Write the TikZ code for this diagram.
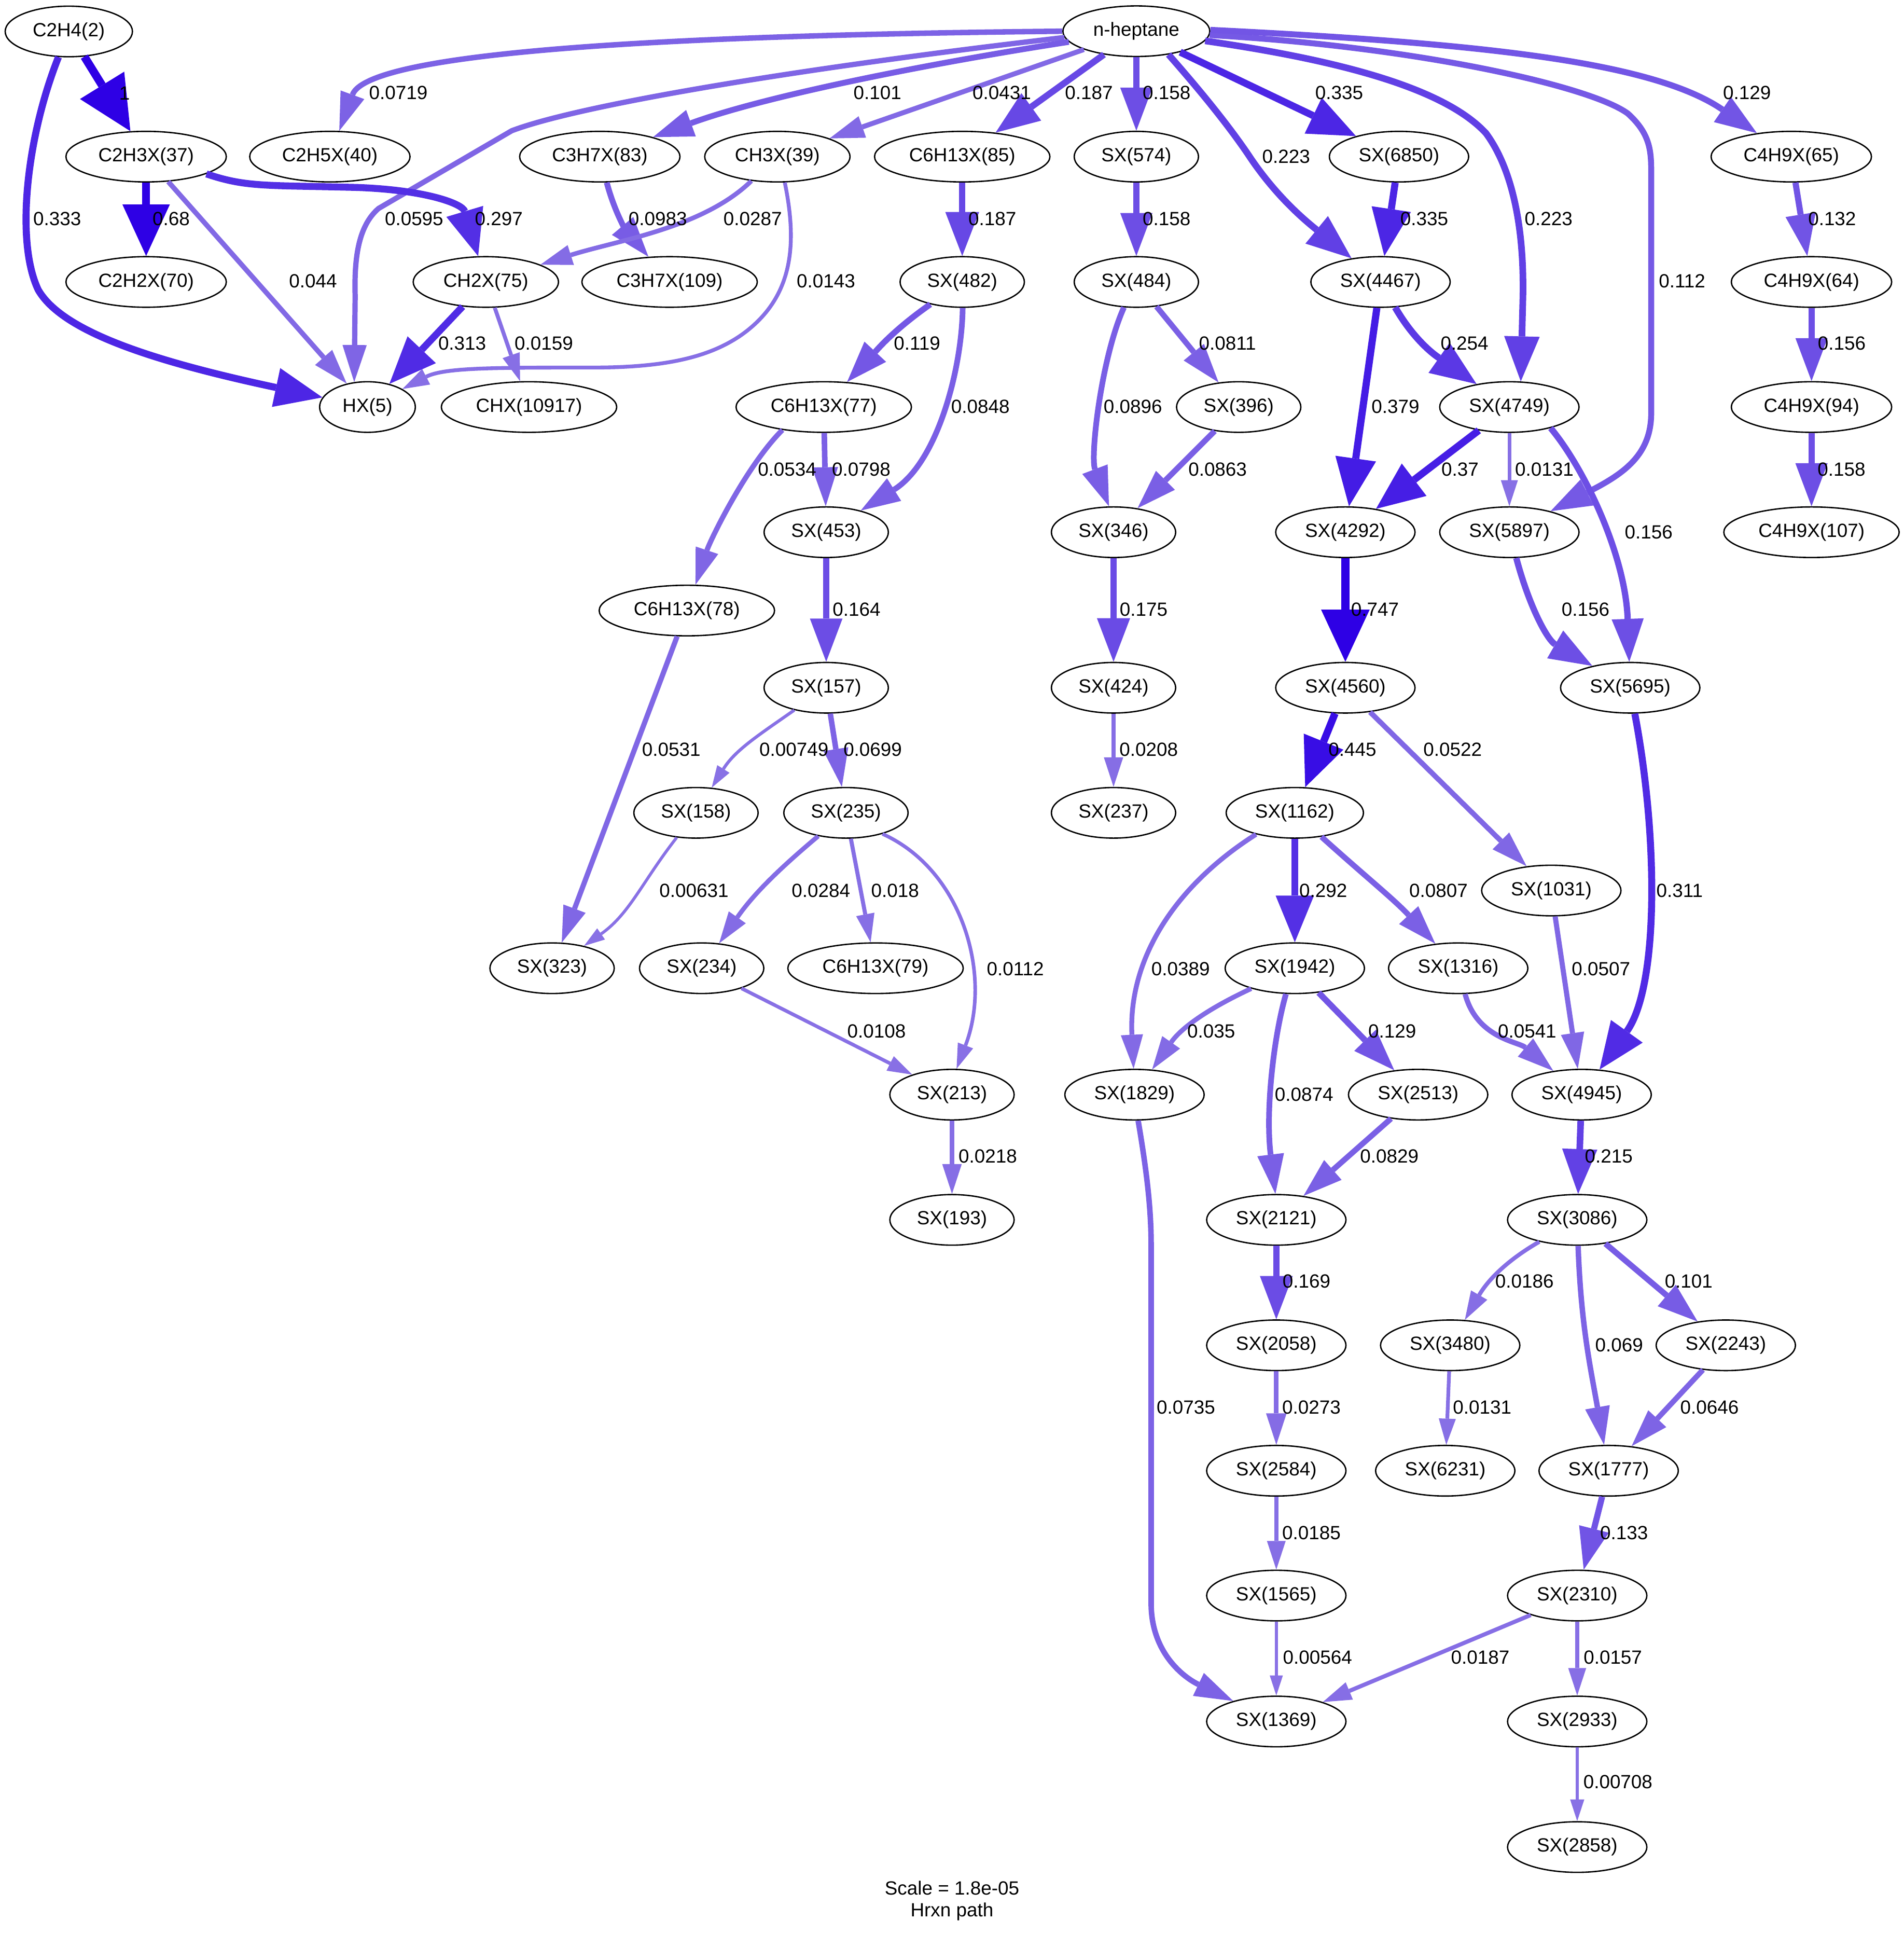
\documentclass[tikz,border=0pt]{standalone}
\usepackage{fontspec}
\setmainfont{Liberation Sans}
\usetikzlibrary{shapes.geometric,arrows.meta}

\tikzset{
  sp/.style={draw, ellipse, line width=1.1pt, inner xsep=7.2pt, inner ysep=1pt,
             minimum height=41pt, font=\fontsize{15.5}{18}\selectfont},
  lab/.style={inner sep=0pt, font=\fontsize{15.5}{18}\selectfont},
  % pen width, arrow size and colour (hue 0.7, value 0.9) follow the relative flux
  flux/.code={%
    \pgfmathsetmacro\fluxgv{2+4*log10(#1/0.005)/2.30103}%
    \pgfmathsetmacro\fluxpen{1.107*\fluxgv}%
    \pgfmathsetmacro\fluxsat{min(1,#1+0.5)}%
    \pgfmathsetmacro\fluxr{0.9*(1-0.8*\fluxsat)}%
    \pgfmathsetmacro\fluxg{0.9*(1-\fluxsat)}%
    \pgfmathsetmacro\fluxlen{11.07*min(6,0.5*\fluxgv)}%
    \pgfmathsetmacro\fluxk{0.35*max(1,\fluxgv/4)}%
    \pgfmathsetmacro\fluxL{\fluxlen+\fluxpen*(0.5+0.5/sin(atan(\fluxk)))}%
    \pgfmathsetmacro\fluxW{2*\fluxk*\fluxlen+1.1*\fluxpen}%
    \definecolor{fluxcolor}{rgb}{\fluxr,\fluxg,0.9}%
    \edef\fluxkeys{line width=\fluxpen pt, draw=fluxcolor,
      -{Triangle[length=\fluxL pt,width=\fluxW pt,line width=0pt]}}%
    \expandafter\pgfkeysalso\expandafter{\fluxkeys}%
  },
}

\begin{document}
\begin{tikzpicture}[x=1pt,y=1pt]
\fill[white] (0,0) rectangle (1544,-1568);
\useasboundingbox (0,0) rectangle (1544,-1568);

% species
\node[sp] (C2H4) at (55.8,-25.5) {C2H4(2)};
\node[sp] (nhep) at (921.5,-25.3) {n-heptane};
\node[sp] (C2H3X37) at (118.5,-127) {C2H3X(37)};
\node[sp] (C2H5X40) at (267.5,-127) {C2H5X(40)};
\node[sp] (C3H7X83) at (486.4,-127) {C3H7X(83)};
\node[sp] (CH3X39) at (630.4,-127) {CH3X(39)};
\node[sp] (C6H13X85) at (780.3,-127) {C6H13X(85)};
\node[sp] (SX574) at (921.5,-127) {SX(574)};
\node[sp] (SX6850) at (1134.5,-127) {SX(6850)};
\node[sp] (C4H9X65) at (1452.6,-127) {C4H9X(65)};
\node[sp] (C2H2X70) at (118.5,-228.6) {C2H2X(70)};
\node[sp] (CH2X75) at (394,-228.6) {CH2X(75)};
\node[sp] (C3H7X109) at (543,-228.6) {C3H7X(109)};
\node[sp] (SX482) at (780.3,-228.6) {SX(482)};
\node[sp] (SX484) at (921.5,-228.6) {SX(484)};
\node[sp] (SX4467) at (1119.5,-228.6) {SX(4467)};
\node[sp] (C4H9X64) at (1469,-228.6) {C4H9X(64)};
\node[sp] (HX5) at (298,-330) {HX(5)};
\node[sp] (CHX) at (429,-330) {CHX(10917)};
\node[sp] (C6H13X77) at (668,-330) {C6H13X(77)};
\node[sp] (SX396) at (1004.5,-330) {SX(396)};
\node[sp] (SX4749) at (1224,-330) {SX(4749)};
\node[sp] (C4H9X94) at (1469,-330) {C4H9X(94)};
\node[sp] (SX453) at (670,-431.5) {SX(453)};
\node[sp] (SX346) at (903,-431.5) {SX(346)};
\node[sp] (SX4292) at (1091,-431.5) {SX(4292)};
\node[sp] (SX5897) at (1224,-431.5) {SX(5897)};
\node[sp] (C4H9X107) at (1469,-431.5) {C4H9X(107)};
\node[sp] (C6H13X78) at (557,-495) {C6H13X(78)};
\node[sp] (SX157) at (670,-557.6) {SX(157)};
\node[sp] (SX424) at (903,-557.6) {SX(424)};
\node[sp] (SX4560) at (1091,-557.6) {SX(4560)};
\node[sp] (SX5695) at (1322,-557.6) {SX(5695)};
\node[sp] (SX158) at (564.4,-659) {SX(158)};
\node[sp] (SX235) at (686,-659) {SX(235)};
\node[sp] (SX237) at (903,-659) {SX(237)};
\node[sp] (SX1162) at (1050,-659) {SX(1162)};
\node[sp] (SX1031) at (1258,-722) {SX(1031)};
\node[sp] (SX323) at (447.7,-785) {SX(323)};
\node[sp] (SX234) at (569,-785) {SX(234)};
\node[sp] (C6H13X79) at (710,-785) {C6H13X(79)};
\node[sp] (SX1942) at (1050,-785) {SX(1942)};
\node[sp] (SX1316) at (1182.5,-785) {SX(1316)};
\node[sp] (SX213) at (772,-887.5) {SX(213)};
\node[sp] (SX1829) at (920,-887.5) {SX(1829)};
\node[sp] (SX2513) at (1150,-887.5) {SX(2513)};
\node[sp] (SX4945) at (1282.6,-887.5) {SX(4945)};
\node[sp] (SX193) at (772,-989) {SX(193)};
\node[sp] (SX2121) at (1035,-989) {SX(2121)};
\node[sp] (SX3086) at (1279,-989) {SX(3086)};
\node[sp] (SX2058) at (1035,-1090.7) {SX(2058)};
\node[sp] (SX3480) at (1176,-1090.7) {SX(3480)};
\node[sp] (SX2243) at (1399.5,-1090.7) {SX(2243)};
\node[sp] (SX2584) at (1035,-1192.4) {SX(2584)};
\node[sp] (SX6231) at (1172,-1192.4) {SX(6231)};
\node[sp] (SX1777) at (1304.5,-1192.4) {SX(1777)};
\node[sp] (SX1565) at (1035,-1293.6) {SX(1565)};
\node[sp] (SX2310) at (1279,-1293.6) {SX(2310)};
\node[sp] (SX1369) at (1035,-1395.7) {SX(1369)};
\node[sp] (SX2933) at (1279,-1395.7) {SX(2933)};
\node[sp] (SX2858) at (1279,-1497.5) {SX(2858)};

% fluxes
\draw[flux=1] (C2H4) -- (C2H3X37);
\draw[flux=0.333] (C2H4.248) .. controls (22,-110) and (12,-195) .. (31,-235) .. controls (50,-268) and (120,-292) .. (HX5);
\draw[flux=0.0719] (nhep.180) .. controls (600,-28) and (300,-38) .. (C2H5X40);
\draw[flux=0.0595] (nhep.185) .. controls (650,-55) and (470,-85) .. (415,-106) -- (307,-169) .. controls (292,-182) and (287,-205) .. (288,-240) -- (HX5.118);
\draw[flux=0.101] (nhep.189) .. controls (750,-52) and (620,-78) .. (C3H7X83);
\draw[flux=0.0431] (nhep) -- (CH3X39);
\draw[flux=0.187] (nhep) -- (C6H13X85);
\draw[flux=0.158] (nhep) -- (SX574);
\draw[flux=0.223] (nhep.-36) .. controls (972,-72) and (995,-100) .. (1012,-125) .. controls (1035,-160) and (1060,-180) .. (SX4467);
\draw[flux=0.335] (nhep) -- (SX6850);
\draw[flux=0.223] (nhep.-8) .. controls (1080,-48) and (1170,-70) .. (1205,-108) .. controls (1225,-135) and (1236,-180) .. (1235,-240) -- (SX4749.66);
\draw[flux=0.112] (nhep.-3) .. controls (1150,-38) and (1290,-70) .. (1320,-92) .. controls (1340,-110) and (1339,-125) .. (1339,-145) -- (1339,-335) .. controls (1339,-370) and (1315,-385) .. (SX5897);
\draw[flux=0.129] (nhep.1) .. controls (1200,-35) and (1340,-50) .. (C4H9X65);
\draw[flux=0.68] (C2H3X37) -- (C2H2X70);
\draw[flux=0.044] (C2H3X37) -- (HX5);
\draw[flux=0.297] (C2H3X37.-16) .. controls (200,-152) and (215,-150) .. (290,-152) .. controls (345,-154) and (375,-165) .. (CH2X75);
\draw[flux=0.0983] (C3H7X83) to[out=-75,in=130] (C3H7X109);
\draw[flux=0.0287] (CH3X39.-137) .. controls (570,-185) and (500,-195) .. (CH2X75);
\draw[flux=0.0143] (CH3X39.-74) .. controls (645,-190) and (645,-230) .. (615,-260) .. controls (585,-290) and (540,-298) .. (480,-298) .. controls (400,-298) and (360,-298) .. (HX5);
\draw[flux=0.313] (CH2X75) -- (HX5);
\draw[flux=0.0159] (CH2X75) -- (CHX);
\draw[flux=0.187] (C6H13X85) -- (SX482);
\draw[flux=0.158] (SX574) -- (SX484);
\draw[flux=0.335] (SX6850) -- (SX4467);
\draw[flux=0.132] (C4H9X65) -- (C4H9X64);
\draw[flux=0.156] (C4H9X64) -- (C4H9X94);
\draw[flux=0.158] (C4H9X94) -- (C4H9X107);
\draw[flux=0.119] (SX482) to[out=-145,in=47] (C6H13X77);
\draw[flux=0.0848] (SX482.-89) .. controls (780,-300) and (760,-375) .. (SX453);
\draw[flux=0.0811] (SX484) -- (SX396);
\draw[flux=0.0896] (SX484.-116) .. controls (893,-290) and (884,-370) .. (SX346.100);
\draw[flux=0.379] (SX4467) -- (SX4292);
\draw[flux=0.254] (SX4467) to[out=-60,in=145] (SX4749);
\draw[flux=0.0534] (C6H13X77.-151) .. controls (605,-378) and (576,-438) .. (C6H13X78);
\draw[flux=0.0798] (C6H13X77) -- (SX453);
\draw[flux=0.0863] (SX396) -- (SX346);
\draw[flux=0.37] (SX4749) -- (SX4292);
\draw[flux=0.0131] (SX4749) -- (SX5897);
\draw[flux=0.156] (SX4749.-27) .. controls (1285,-380) and (1318,-450) .. (SX5695);
\draw[flux=0.164] (SX453) -- (SX157);
\draw[flux=0.175] (SX346) -- (SX424);
\draw[flux=0.747] (SX4292) -- (SX4560);
\draw[flux=0.156] (SX5897) to[out=-75,in=150] (SX5695);
\draw[flux=0.0531] (C6H13X78) -- (SX323);
\draw[flux=0.00749] (SX157) to[out=-145,in=58] (SX158);
\draw[flux=0.0699] (SX157) -- (SX235);
\draw[flux=0.0208] (SX424) -- (SX237);
\draw[flux=0.445] (SX4560) -- (SX1162);
\draw[flux=0.0522] (SX4560) -- (SX1031);
\draw[flux=0.00631] (SX158) to[out=-128,in=35] (SX323);
\draw[flux=0.0284] (SX235) to[out=-140,in=55] (SX234);
\draw[flux=0.018] (SX235) -- (C6H13X79);
\draw[flux=0.0112] (SX235.-30) .. controls (780,-705) and (805,-790) .. (SX213.80);
\draw[flux=0.0389] (SX1162.-151) .. controls (950,-720) and (915,-780) .. (SX1829.92);
\draw[flux=0.292] (SX1162) -- (SX1942);
\draw[flux=0.0807] (SX1162) to[out=-42,in=133] (SX1316);
\draw[flux=0.0507] (SX1031) -- (SX4945);
\draw[flux=0.311] (SX5695.-80) .. controls (1345,-680) and (1345,-800) .. (SX4945);
\draw[flux=0.0108] (SX234) -- (SX213);
\draw[flux=0.035] (SX1942) to[out=-155,in=55] (SX1829);
\draw[flux=0.129] (SX1942) -- (SX2513);
\draw[flux=0.0874] (SX1942.-109) .. controls (1033,-840) and (1026,-900) .. (SX2121.92);
\draw[flux=0.0541] (SX1316) to[out=-75,in=140] (SX4945);
\draw[flux=0.0218] (SX213) -- (SX193);
\draw[flux=0.0829] (SX2513) -- (SX2121);
\draw[flux=0.215] (SX4945) -- (SX3086);
\draw[flux=0.0735] (SX1829.-82) .. controls (930,-950) and (933.5,-980) .. (933.5,-1010) -- (933.5,-1300) .. controls (933.5,-1340) and (960,-1360) .. (SX1369);
\draw[flux=0.169] (SX2121) -- (SX2058);
\draw[flux=0.0186] (SX3086) to[out=-150,in=60] (SX3480);
\draw[flux=0.069] (SX3086) to[out=-88,in=100] (SX1777);
\draw[flux=0.101] (SX3086) -- (SX2243);
\draw[flux=0.0273] (SX2058) -- (SX2584);
\draw[flux=0.0131] (SX3480) -- (SX6231);
\draw[flux=0.0646] (SX2243) -- (SX1777);
\draw[flux=0.0185] (SX2584) -- (SX1565);
\draw[flux=0.133] (SX1777) -- (SX2310);
\draw[flux=0.00564] (SX1565) -- (SX1369);
\draw[flux=0.0187] (SX2310) -- (SX1369);
\draw[flux=0.0157] (SX2310) -- (SX2933);
\draw[flux=0.00708] (SX2933) -- (SX2858);

% flux values
\node[lab] (l01) at (101,-75.5) {1};
\node[lab] (l02) at (323,-75) {0.0719};
\node[lab] (l03) at (46.4,-177.3) {0.333};
\node[lab] (l04) at (138.8,-177.3) {0.68};
\node[lab] (l05) at (335.8,-177.3) {0.0595};
\node[lab] (l06) at (404.5,-177.3) {0.297};
\node[lab] (l07) at (533.4,-177.3) {0.0983};
\node[lab] (l08) at (253.8,-228) {0.044};
\node[lab] (l09) at (374.8,-278.5) {0.313};
\node[lab] (l10) at (441,-278.5) {0.0159};
\node[lab] (l11) at (711.5,-75) {0.101};
\node[lab] (l12) at (812.4,-75) {0.0431};
\node[lab] (l13) at (883,-75) {0.187};
\node[lab] (l14) at (946,-75) {0.158};
\node[lab] (l15) at (1086,-75) {0.335};
\node[lab] (l16) at (610.4,-177.3) {0.0287};
\node[lab] (l17) at (804.7,-177.3) {0.187};
\node[lab] (l18) at (946,-177.3) {0.158};
\node[lab] (l19) at (1043,-127) {0.223};
\node[lab] (l20) at (669.8,-228) {0.0143};
\node[lab] (l21) at (743.7,-278.5) {0.119};
\node[lab] (l22) at (995.4,-278.5) {0.0811};
\node[lab] (l23) at (795,-329.8) {0.0848};
\node[lab] (l24) at (918.7,-329.8) {0.0896};
\node[lab] (l25) at (1416.7,-75) {0.129};
\node[lab] (l26) at (1155,-177.3) {0.335};
\node[lab] (l27) at (1255.8,-177.3) {0.223};
\node[lab] (l28) at (1485.7,-177.3) {0.132};
\node[lab] (l29) at (1364,-228) {0.112};
\node[lab] (l30) at (1187.6,-278.5) {0.254};
\node[lab] (l31) at (1493.5,-278.5) {0.156};
\node[lab] (l32) at (1131.6,-329.8) {0.379};
\node[lab] (l33) at (638.3,-380.6) {0.0534};
\node[lab] (l34) at (698.4,-380.6) {0.0798};
\node[lab] (l35) at (987.4,-380.6) {0.0863};
\node[lab] (l36) at (694.6,-494) {0.164};
\node[lab] (l37) at (927.4,-494) {0.175};
\node[lab] (l38) at (544.4,-607.7) {0.0531};
\node[lab] (l39) at (643.8,-607.7) {0.00749};
\node[lab] (l40) at (707.7,-607.7) {0.0699};
\node[lab] (l41) at (931.5,-607.7) {0.0208};
\node[lab] (l42) at (562.8,-722) {0.00631};
\node[lab] (l43) at (665.7,-722) {0.0284};
\node[lab] (l44) at (725.8,-722) {0.018};
\node[lab] (l45) at (823.4,-785.4) {0.0112};
\node[lab] (l46) at (957.4,-785.4) {0.0389};
\node[lab] (l47) at (710.8,-836) {0.0108};
\node[lab] (l48) at (982.2,-836) {0.035};
\node[lab] (l49) at (1184,-380.6) {0.37};
\node[lab] (l50) at (1252.3,-380.6) {0.0131};
\node[lab] (l51) at (1493.3,-380.6) {0.158};
\node[lab] (l52) at (1337,-431.5) {0.156};
\node[lab] (l53) at (1115,-494) {0.747};
\node[lab] (l54) at (1285.8,-494) {0.156};
\node[lab] (l55) at (1096.7,-607.7) {0.445};
\node[lab] (l56) at (1178,-607.7) {0.0522};
\node[lab] (l57) at (1073,-722) {0.292};
\node[lab] (l58) at (1166.5,-722) {0.0807};
\node[lab] (l59) at (1362,-722) {0.311};
\node[lab] (l60) at (1298.3,-785.4) {0.0507};
\node[lab] (l61) at (1129,-836) {0.129};
\node[lab] (l62) at (1238.4,-836) {0.0541};
\node[lab] (l63) at (1057.5,-887.4) {0.0874};
\node[lab] (l64) at (1126.7,-937.6) {0.0829};
\node[lab] (l65) at (1304.6,-937.6) {0.215};
\node[lab] (l66) at (801,-937.3) {0.0218};
\node[lab] (l67) at (1059.5,-1039) {0.169};
\node[lab] (l68) at (1236.2,-1039) {0.0186};
\node[lab] (l69) at (1369.4,-1039) {0.101};
\node[lab] (l70) at (1313,-1090.7) {0.069};
\node[lab] (l71) at (961.7,-1141) {0.0735};
\node[lab] (l72) at (1063.5,-1141) {0.0273};
\node[lab] (l73) at (1202,-1141) {0.0131};
\node[lab] (l74) at (1386.3,-1141) {0.0646};
\node[lab] (l75) at (1063.5,-1242.7) {0.0185};
\node[lab] (l76) at (1317,-1242.7) {0.133};
\node[lab] (l77) at (1068.4,-1343.9) {0.00564};
\node[lab] (l78) at (1200.4,-1343.9) {0.0187};
\node[lab] (l79) at (1307.9,-1343.9) {0.0157};
\node[lab] (l80) at (1312,-1444.5) {0.00708};

% graph caption
\node[lab, align=center, font=\fontsize{15.5}{17.5}\selectfont] (caption) at (772,-1541) {Scale = 1.8e-05\\Hrxn path};
\end{tikzpicture}
\end{document}
